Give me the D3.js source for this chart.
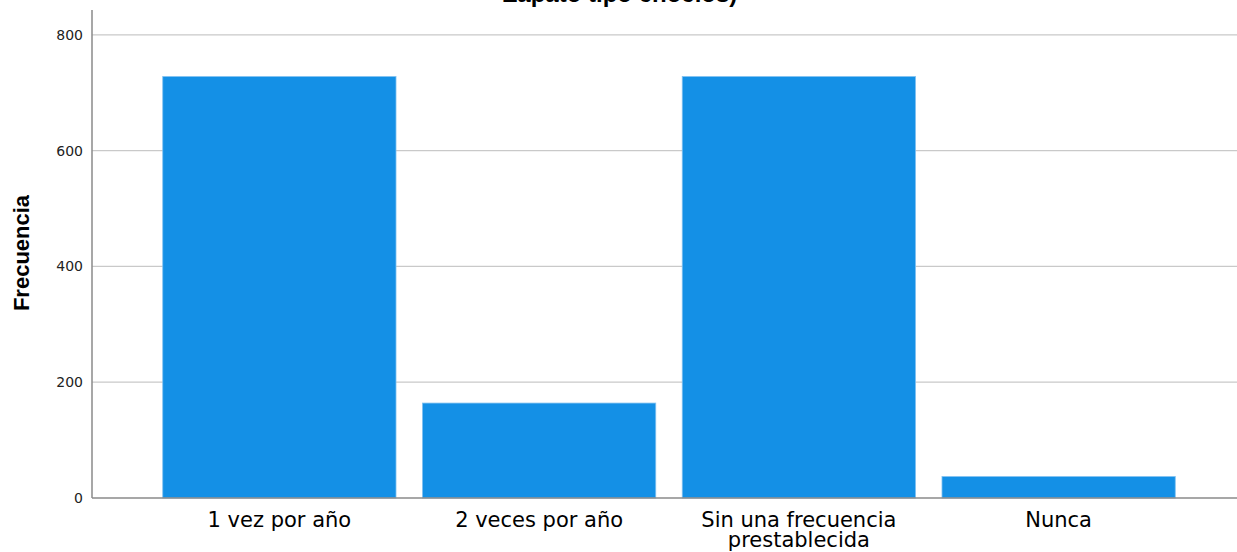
<!DOCTYPE html>
<html lang="es">
    <head>
        <meta charset="utf-8">
        <title>Frecuencia</title>
        <script src="https://d3js.org/d3.v7.min.js"></script>
        <style type="text/css">
            body {
                margin: 0;
                background: white;
            }

            .grid line {
                stroke: #c9c9c9;
                stroke-width: 1.3px;
            }

            .axis text {
                font-family: "DejaVu Sans", sans-serif;
                font-size: 14px;
                fill: #222;
            }

            .xlabel {
                font-family: "DejaVu Sans", sans-serif;
                font-size: 21px;
                fill: black;
            }
        </style>
    </head>
    <body>
        <script type="text/javascript">

            const w = 1237;
            const h = 552;

            // data
            const categories = ["1 vez por año", "2 veces por año", "Sin una frecuencia prestablecida", "Nunca"];
            const labelLines = [["1 vez por año"], ["2 veces por año"], ["Sin una frecuencia", "prestablecida"], ["Nunca"]];
            const counts = [728, 164, 728, 37];
            const yTicks = [0, 200, 400, 600, 800];

            const svg = d3.select("body")
                .append("svg")
                .attr("width", w)
                .attr("height", h);

            // scales
            const xScale = d3.scaleBand()
                .domain(categories)
                .range([149.5, 1188.5])
                .paddingInner(0.102)
                .paddingOuter(0.051);

            const yScale = d3.scaleLinear()
                .domain([0, 843])
                .range([498, 10]);

            // gridlines
            svg.append("g")
                .attr("class", "grid")
                .selectAll("line")
                .data(yTicks.filter(d => d > 0))
                .join("line")
                .attr("x1", 92)
                .attr("x2", w)
                .attr("y1", d => yScale(d))
                .attr("y2", d => yScale(d));

            // bars
            svg.append("g")
                .selectAll("rect")
                .data(counts)
                .join("rect")
                .attr("x", (d, i) => xScale(categories[i]))
                .attr("y", d => yScale(d))
                .attr("width", xScale.bandwidth())
                .attr("height", d => yScale(0) - yScale(d))
                .attr("fill", "#1490e6")
                .attr("stroke", "#7fc0f0")
                .attr("stroke-width", 0.8);

            // left axis
            const leftAxis = d3.axisLeft(yScale)
                .tickValues(yTicks)
                .tickSize(0)
                .tickPadding(9);

            const ax = svg.append("g")
                .attr("class", "axis")
                .attr("transform", "translate(92,0)")
                .call(leftAxis);
            ax.select(".domain").remove();

            svg.append("line")
                .attr("x1", 92).attr("x2", 92)
                .attr("y1", yScale.range()[1]).attr("y2", yScale(0))
                .attr("stroke", "#8a8a8a")
                .attr("stroke-width", 1.5);

            // bottom baseline
            svg.append("line")
                .attr("x1", 92).attr("x2", w)
                .attr("y1", yScale(0)).attr("y2", yScale(0))
                .attr("stroke", "#8a8a8a")
                .attr("stroke-width", 1.5);

            // category labels
            const labels = svg.append("g")
                .selectAll("text")
                .data(categories)
                .join("text")
                .attr("class", "xlabel")
                .attr("text-anchor", "middle")
                .attr("x", d => xScale(d) + xScale.bandwidth() / 2)
                .attr("y", 527);

            labels.selectAll("tspan")
                .data((d, i) => labelLines[i])
                .join("tspan")
                .attr("x", function() { return this.parentNode.getAttribute("x"); })
                .attr("dy", (d, i) => i === 0 ? 0 : 20)
                .text(d => d);

            // y title
            svg.append("text")
                .attr("transform", "translate(29,253) rotate(-90)")
                .attr("text-anchor", "middle")
                .style("font-family", "Liberation Sans, sans-serif")
                .style("font-weight", "bold")
                .style("font-size", "22px")
                .text("Frecuencia");

            // chart title (cut off at the top)
            svg.append("text")
                .attr("x", 620)
                .attr("y", 2)
                .attr("text-anchor", "middle")
                .style("font-family", "Liberation Sans, sans-serif")
                .style("font-weight", "bold")
                .style("font-size", "24px")
                .text("Zapato tipo choclos)");

        </script>
    </body>
</html>
